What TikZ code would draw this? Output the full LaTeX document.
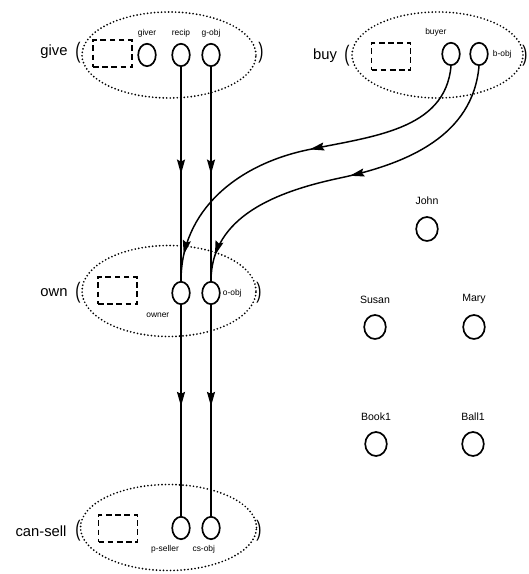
\documentclass[tikz,border=0pt]{standalone}
\usepackage{fontspec}
\setmainfont{Liberation Sans}
\usetikzlibrary{arrows.meta, positioning, shapes.geometric, decorations.markings}
\newcommand{\tallparen}[1]{\scalebox{1}[1.45]{#1}}

\begin{document}
\begin{tikzpicture}[
				x=0.25mm, y=0.25mm,
				>={Stealth[length=3.6mm, width=2mm, inset=0.5mm]},
				frame/.style={draw, ellipse, line width=1.35pt, line cap=round,
					dash pattern=on 0pt off 2.5pt,
					minimum width=43.5mm, minimum height=21.5mm},
				ctx/.style={draw, line width=1pt, dash pattern=on 1.4mm off 0.9mm,
					minimum width=9.75mm, minimum height=6.75mm, inner sep=0pt},
				slot/.style={draw, ellipse, line width=1.2pt, inner sep=0pt,
					minimum width=4.4mm, minimum height=5.6mm},
				entity/.style={draw, ellipse, line width=1.2pt, inner sep=0pt,
					minimum width=5.4mm, minimum height=6mm},
				pred/.style={inner sep=0pt, font=\fontsize{10.5}{12}\selectfont},
				paren/.style={inner sep=0pt, font=\fontsize{11}{12}\selectfont},
				tag/.style={inner sep=0.5pt, font=\fontsize{6}{7}\selectfont},
				who/.style={inner sep=0.5pt, font=\fontsize{7.5}{9}\selectfont},
				link/.style={line width=1.05pt},
				midarrow/.style={postaction={decorate},
					decoration={markings, mark=at position #1 with {\arrow{>}}}},
				twoarrows/.style 2 args={postaction={decorate},
					decoration={markings, mark=at position #1 with {\arrow{>}},
						mark=at position #2 with {\arrow{>}}}}
				]
				\useasboundingbox (0,0) rectangle (528,574);
				
				%--- give ------------------------------------------------------------------
				\node[frame] (giveframe) at (169,519) {};
				\node[pred] (givelbl) at (54,522) {give};
				\node[paren] (giveopen) at (78,521) {\tallparen{(}};
				\node[paren] (giveclose) at (261,521) {\tallparen{)}};
				\node[ctx] (givectx) at (112.5,520.5) {};
				\node[slot] (giver) at (147,519) {};
				\node[slot] (recip) at (181,519) {};
				\node[slot] (gobj) at (211,519) {};
				\node[tag, above=1.2mm of giver] (giverlbl) {giver};
				\node[tag, above=1.2mm of recip] (reciplbl) {recip};
				\node[tag, above=1.2mm of gobj] (gobjlbl) {g-obj};
				
				%--- buy -------------------------------------------------------------------
				\node[frame, minimum width=42.75mm] (buyframe) at (437.5,519) {};
				\node[pred] (buylbl) at (325,518) {buy};
				\node[paren] (buyopen) at (347,518) {\tallparen{(}};
				\node[paren] (buyclose) at (525,518) {\tallparen{)}};
				\node[ctx] (buyctx) at (391,517.5) {};
				\node[slot] (buyer) at (451,520) {};
				\node[slot] (bobj) at (479,520) {};
				\node[tag, above=1.2mm of buyer, xshift=-3.8mm] (buyerlbl) {buyer};
				\node[tag, right=0.8mm of bobj] (bobjlbl) {b-obj};
				
				%--- own -------------------------------------------------------------------
				\node[frame, minimum height=22.75mm] (ownframe) at (169,283) {};
				\node[pred] (ownlbl) at (54,281) {own};
				\node[paren] (ownopen) at (78,281) {\tallparen{(}};
				\node[paren] (ownclose) at (259,281) {\tallparen{)}};
				\node[ctx] (ownctx) at (117.5,283.5) {};
				\node[slot] (owner) at (181,281) {};
				\node[slot] (oobj) at (211,281) {};
				\node[tag, below=1.8mm of owner, xshift=-5.8mm] (ownerlbl) {owner};
				\node[tag, right=0.3mm of oobj] (oobjlbl) {o-obj};
				
				%--- can-sell --------------------------------------------------------------
				\node[frame, minimum width=44mm] (sellframe) at (168.5,46.5) {};
				\node[pred] (selllbl) at (41,43) {can-sell};
				\node[paren] (sellopen) at (78,43) {\tallparen{(}};
				\node[paren] (sellclose) at (259,43) {\tallparen{)}};
				\node[ctx] (sellctx) at (118,45.5) {};
				\node[slot] (pseller) at (181,46) {};
				\node[slot] (csobj) at (211,46) {};
				\node[tag, below=1.2mm of pseller, xshift=-4mm] (psellerlbl) {p-seller};
				\node[tag, below=1.2mm of csobj, xshift=-1.8mm] (csobjlbl) {cs-obj};
				
				%--- entities --------------------------------------------------------------
				\node[entity] (john) at (427,345) {};
				\node[entity] (susan) at (375,247) {};
				\node[entity] (mary) at (474,247) {};
				\node[entity] (book) at (376,130) {};
				\node[entity] (ball) at (473,130) {};
				\node[who, above=2.6mm of john] (johnlbl) {John};
				\node[who, above=2.4mm of susan] (susanlbl) {Susan};
				\node[who, above=2.4mm of mary] (marylbl) {Mary};
				\node[who, above=2.4mm of book] (booklbl) {Book1};
				\node[who, above=2.4mm of ball] (balllbl) {Ball1};
				
				%--- links -----------------------------------------------------------------
				\draw[link, midarrow=0.5] (recip.south) -- (owner.north);
				\draw[link, midarrow=0.5] (gobj.south) -- (oobj.north);
				\draw[link, midarrow=0.48] (owner.south) -- (pseller.north);
				\draw[link, midarrow=0.48] (oobj.south) -- (csobj.north);
				
				\coordinate (bend1) at (307,424);
				\coordinate (bend2) at (340,396);
				\draw[link, twoarrows={0.47}{0.93}] (buyer.south)
				to[out=-95,in=12] (bend1) to[out=192,in=90] (owner.north);
				\draw[link, twoarrows={0.49}{0.93}] (bobj.south)
				to[out=-95,in=12] (bend2) to[out=192,in=90] (oobj.north);
			\end{tikzpicture}
\end{document}
